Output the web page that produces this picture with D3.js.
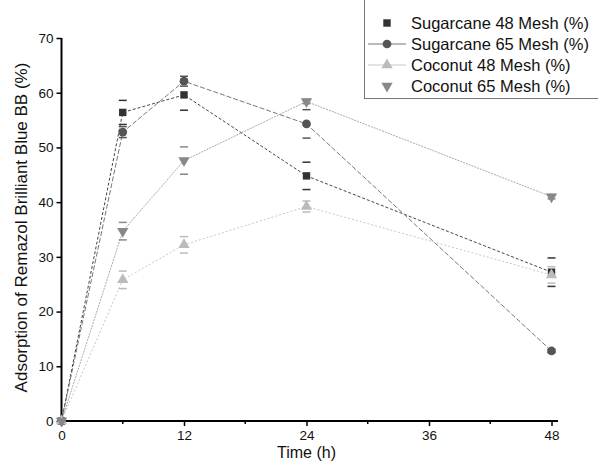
<!DOCTYPE html>
<html><head><meta charset="utf-8">
<script src="https://cdn.jsdelivr.net/npm/d3@7"></script>
<style>body{margin:0;background:#fff;} svg{display:block;font-family:"Liberation Sans",Arial,sans-serif;}</style>
</head><body>
<script>
const times = [0, 6, 12, 24, 48];
const seriesNames = ["Sugarcane 48 Mesh (%)", "Sugarcane 65 Mesh (%)", "Coconut 48 Mesh (%)", "Coconut 65 Mesh (%)"];
const sugarcane48 = [0, 56.4, 59.6, 44.8, 27.2];
const sugarcane65 = [0, 52.8, 62.1, 54.3, 12.8];
const coconut48 = [0, 25.8, 32.2, 39.2, 26.7];
const coconut65 = [0, 34.7, 47.6, 58.4, 41.0];
const errS48 = [0, 2.2, 2.8, 2.5, 2.6];
const errS65 = [0, 1.0, 0.9, 2.6, 0.3];
const errC48 = [0, 1.6, 1.5, 1.0, 1.5];
const errC65 = [0, 1.6, 2.5, 0.4, 0.4];
const xTicks = [0, 12, 24, 36, 48];
const yTicks = [0, 10, 20, 30, 40, 50, 60, 70];

const W = 598, H = 466;
const svg = d3.select("body").append("svg").attr("width", W).attr("height", H);
const x = d3.scaleLinear().domain([0, 48]).range([61.5, 551.5]);
const y = d3.scaleLinear().domain([0, 70]).range([421, 38]);

const series = [
  {name: seriesNames[0], vals: sugarcane48, err: errS48, color: "#333", line: "#444", dash: "3,2", sym: d3.symbolSquare, size: 55, rot: 0, legendLine: false},
  {name: seriesNames[1], vals: sugarcane65, err: errS65, color: "#555", line: "#777", dash: "5,2", sym: d3.symbolCircle, size: 60, rot: 0, legendLine: true},
  {name: seriesNames[2], vals: coconut48, err: errC48, color: "#bbb", line: "#c8c8c8", dash: "2,2", sym: d3.symbolTriangle, size: 55, rot: 0, legendLine: true},
  {name: seriesNames[3], vals: coconut65, err: errC65, color: "#888", line: "#aaa", dash: "2,1", sym: d3.symbolTriangle, size: 55, rot: 180, legendLine: false}
];

// axes
const xAxis = svg.append("g").attr("transform", `translate(0,${y(0)})`)
  .call(d3.axisBottom(x).tickValues(xTicks).tickSize(5).tickPadding(4).tickFormat(d3.format("d")));
xAxis.append("g").selectAll("line").data([6, 18, 30, 42]).join("line")
  .attr("x1", d => x(d)).attr("x2", d => x(d)).attr("y1", 0).attr("y2", 3).attr("stroke", "#000").attr("stroke-width", 1.5);
xAxis.select(".domain").attr("d", `M${x(0)},0H558`);
const yAxis = svg.append("g").attr("transform", `translate(${x(0)},0)`)
  .call(d3.axisLeft(y).tickValues(yTicks).tickSize(5).tickPadding(3).tickFormat(d3.format("d")));
yAxis.select(".domain").attr("d", `M0,${y(0)}V${y(70)}`);
[xAxis, yAxis].forEach(g => {
  g.select(".domain").attr("stroke", "#000").attr("stroke-width", 2);
  g.selectAll(".tick line").attr("stroke", "#000").attr("stroke-width", 1.5);
  g.selectAll(".tick text").attr("font-size", 13.5).attr("fill", "#111").attr("font-family", "Liberation Sans, Arial, sans-serif");
});

svg.append("text").attr("x", (x(0) + x(48)) / 2).attr("y", 458).attr("text-anchor", "middle")
  .attr("font-size", 16).attr("fill", "#111").text("Time (h)");
svg.append("text").attr("transform", `translate(27,${y(35) - 2}) rotate(-90)`).attr("text-anchor", "middle")
  .attr("font-size", 17).attr("fill", "#111").text("Adsorption of Remazol Brilliant Blue BB (%)");

const plot = svg.append("g");
const lineGen = d3.line().x((d, i) => x(times[i])).y(d => y(d));
series.forEach(s => {
  plot.append("path").attr("d", lineGen(s.vals)).attr("fill", "none")
    .attr("stroke", s.line).attr("stroke-width", 1).attr("stroke-dasharray", s.dash);
});
// error caps
series.forEach(s => {
  s.vals.forEach((v, i) => {
    if (s.err[i] <= 0) return;
    [v + s.err[i], v - s.err[i]].forEach(e => {
      plot.append("line").attr("x1", x(times[i]) - 4).attr("x2", x(times[i]) + 4)
        .attr("y1", y(e)).attr("y2", y(e)).attr("stroke", s.color).attr("stroke-width", 1.5);
    });
  });
});
// markers
series.forEach(s => {
  plot.append("g").selectAll("path").data(s.vals).join("path")
    .attr("d", d3.symbol().type(s.sym).size(s.size))
    .attr("transform", (d, i) => `translate(${x(times[i])},${y(d)}) rotate(${s.rot})`)
    .attr("fill", s.color);
});

// legend
const lg = svg.append("g");
lg.append("rect").attr("x", 364.5).attr("y", -2).attr("width", 240).attr("height", 100.5)
  .attr("fill", "#fff").attr("stroke", "#777").attr("stroke-width", 1);
series.forEach((s, i) => {
  const yy = 23 + i * 21;
  if (s.legendLine) lg.append("line").attr("x1", 368).attr("x2", 406).attr("y1", yy).attr("y2", yy)
    .attr("stroke", s.line).attr("stroke-width", 1);
  lg.append("path").attr("d", d3.symbol().type(s.sym).size(s.size))
    .attr("transform", `translate(387,${yy}) rotate(${s.rot})`).attr("fill", s.color);
  lg.append("text").attr("x", 411).attr("y", yy + 6).attr("font-size", 16.5).attr("fill", "#111").text(s.name);
});
</script>
</body></html>
